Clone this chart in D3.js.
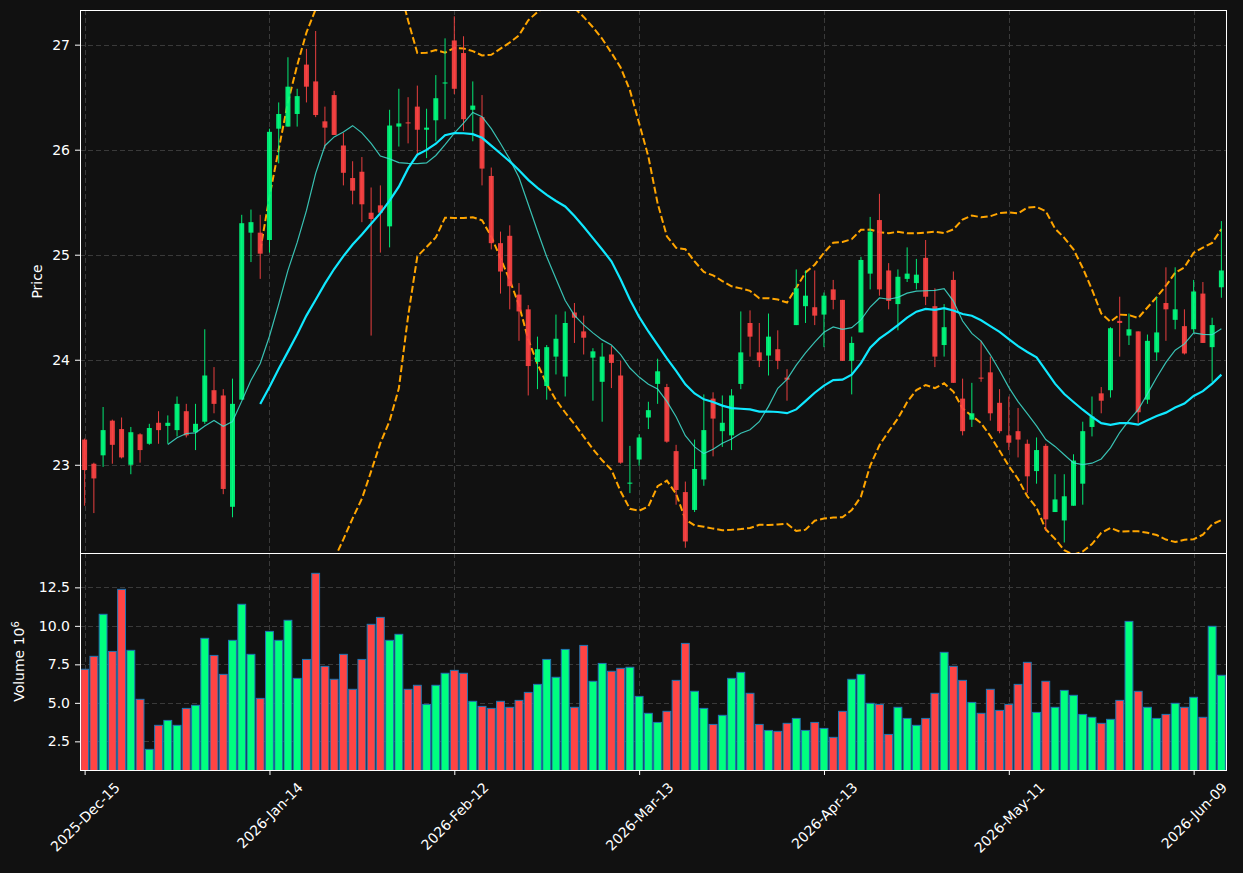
<!DOCTYPE html>
<html>
<head>
<meta charset="utf-8">
<script src="https://cdn.jsdelivr.net/npm/d3@7"></script>
<style>
  html, body { margin: 0; padding: 0; background: #111111; }
  svg { display: block; font-family: "DejaVu Sans", sans-serif; }
</style>
</head>
<body>
<svg id="chart" width="1243" height="873"></svg>
<script>
// --- Data (one candle per trading day) ---
const tickIdx = [0, 20, 40, 60, 80, 100, 120];
const tickLabels = ["2025-Dec-15", "2026-Jan-14", "2026-Feb-12", "2026-Mar-13", "2026-Apr-13", "2026-May-11", "2026-Jun-09"];

const opens = [
  23.24, 23.01, 23.09, 23.42, 23.34, 23.00, 23.29, 23.20, 23.40, 23.37,
  23.33, 23.51, 23.31, 23.41, 23.71, 23.66, 22.60, 23.62, 25.21, 25.21,
  25.14, 26.20, 26.22, 26.34, 26.81, 26.65, 26.27, 26.52, 26.04, 25.73,
  25.79, 25.40, 25.47, 25.27, 26.22, 26.26, 26.41, 26.19, 26.28, 26.63,
  27.04, 26.92, 26.38, 26.31, 25.75, 25.11, 25.18, 24.62, 24.48, 23.98,
  23.75, 24.03, 23.84, 24.45, 24.27, 24.02, 23.79, 24.05, 23.85, 22.82,
  23.05, 23.45, 23.77, 23.74, 23.13, 22.74, 22.57, 22.86, 23.63, 23.32,
  23.28, 23.77, 24.35, 24.07, 24.04, 24.10, 23.83, 24.33, 24.51, 24.50,
  24.43, 24.67, 24.57, 23.99, 24.26, 24.82, 25.33, 24.85, 24.53, 24.77,
  24.73, 24.97, 24.51, 24.14, 24.76, 23.63, 23.43, 23.83, 23.88, 23.59,
  23.28, 23.32, 23.20, 22.94, 23.18, 22.55, 22.47, 22.61, 22.82, 23.36,
  23.68, 23.71, 24.37, 24.23, 24.27, 23.62, 24.07, 24.54, 24.38, 24.32,
  24.29, 24.63, 24.12, 24.69
];
const highs = [
  23.25, 23.02, 23.55, 23.43, 23.45, 23.36, 23.30, 23.39, 23.51, 23.47,
  23.65, 23.58, 23.58, 24.29, 23.93, 23.72, 23.82, 25.38, 25.43, 25.38,
  26.20, 26.45, 26.88, 26.58, 26.96, 27.13, 26.41, 26.56, 26.16, 25.89,
  25.93, 25.64, 25.66, 26.38, 26.58, 26.50, 26.61, 26.39, 26.71, 27.06,
  27.27, 27.08, 26.65, 26.52, 25.83, 25.22, 25.28, 24.73, 24.52, 24.22,
  24.14, 24.43, 24.46, 24.54, 24.42, 24.11, 24.16, 24.13, 23.99, 23.18,
  23.29, 23.60, 24.01, 23.77, 23.19, 22.84, 23.24, 23.67, 23.69, 23.66,
  23.72, 24.46, 24.47, 24.35, 24.44, 24.28, 23.91, 24.86, 24.85, 24.85,
  24.64, 24.76, 24.57, 24.22, 24.98, 25.36, 25.58, 24.92, 24.86, 25.07,
  24.96, 25.14, 24.68, 24.53, 24.84, 23.82, 23.78, 24.18, 24.03, 23.72,
  23.65, 23.54, 23.24, 23.26, 23.20, 22.91, 22.91, 23.10, 23.41, 23.65,
  23.74, 24.31, 24.60, 24.44, 24.27, 24.24, 24.60, 24.88, 24.88, 24.48,
  24.76, 24.74, 24.40, 25.32
];
const lows = [
  22.61, 22.54, 22.98, 23.01, 23.06, 22.91, 23.02, 23.19, 23.20, 23.20,
  23.27, 23.26, 23.14, 23.39, 23.49, 22.72, 22.50, 23.62, 24.93, 24.77,
  25.02, 25.87, 26.22, 26.22, 26.45, 26.31, 26.01, 26.14, 25.66, 25.48,
  25.31, 24.23, 25.02, 25.07, 26.03, 26.06, 25.96, 25.92, 26.08, 26.29,
  26.53, 26.18, 26.08, 25.66, 25.05, 24.63, 24.48, 24.18, 23.66, 23.72,
  23.62, 23.86, 23.65, 24.16, 24.05, 23.61, 23.41, 23.73, 23.01, 22.73,
  22.99, 23.34, 23.58, 23.21, 22.62, 22.21, 22.55, 22.80, 23.08, 23.17,
  23.14, 23.72, 24.03, 23.93, 23.85, 23.91, 23.61, 24.33, 24.35, 24.33,
  24.12, 24.48, 23.99, 23.67, 24.26, 24.67, 24.61, 24.48, 24.28, 24.74,
  24.67, 24.52, 23.93, 24.03, 23.78, 23.28, 23.36, 23.79, 23.42, 23.30,
  23.14, 23.07, 22.73, 22.82, 22.37, 22.55, 22.26, 22.61, 22.62, 23.27,
  23.49, 23.64, 24.03, 24.14, 23.40, 23.58, 23.99, 24.18, 24.29, 24.05,
  24.26, 24.16, 23.79, 24.59
];
const closes = [
  22.95, 22.87, 23.33, 23.19, 23.07, 23.31, 23.14, 23.35, 23.33, 23.40,
  23.58, 23.28, 23.39, 23.85, 23.58, 22.77, 23.58, 25.30, 25.31, 25.01,
  26.17, 26.34, 26.60, 26.51, 26.60, 26.33, 26.21, 26.14, 25.78, 25.61,
  25.48, 25.34, 25.40, 26.23, 26.25, 26.25, 26.19, 26.21, 26.49, 26.64,
  26.58, 26.29, 26.42, 25.82, 25.11, 24.84, 24.70, 24.46, 23.94, 24.10,
  24.12, 24.20, 24.35, 24.40, 24.21, 24.08, 24.03, 23.97, 23.02, 22.83,
  23.26, 23.52, 23.89, 23.22, 22.76, 22.27, 22.96, 23.33, 23.44, 23.40,
  23.66, 24.07, 24.22, 23.99, 24.22, 23.99, 23.81, 24.68, 24.61, 24.42,
  24.61, 24.57, 23.99, 24.16, 24.95, 25.22, 24.67, 24.56, 24.79, 24.82,
  24.81, 24.60, 24.03, 24.31, 23.78, 23.32, 23.49, 23.82, 23.49, 23.32,
  23.21, 23.24, 22.89, 23.14, 22.48, 22.67, 22.70, 23.04, 23.32, 23.46,
  23.61, 24.30, 24.35, 24.29, 23.50, 24.18, 24.26, 24.48, 24.48, 24.06,
  24.65, 24.16, 24.33, 24.85
];
// volume in millions (axis label carries the 10^6)
const volumes = [
  7.18, 8.02, 10.75, 8.34, 12.37, 8.41, 5.23, 1.98, 3.54, 3.86,
  3.54, 4.64, 4.84, 9.19, 8.08, 6.85, 9.06, 11.40, 8.15, 5.29,
  9.64, 9.06, 10.36, 6.59, 7.82, 13.41, 7.37, 6.53, 8.15, 5.88,
  7.82, 10.10, 10.55, 9.06, 9.45, 5.88, 6.14, 4.90, 6.14, 6.92,
  7.11, 6.92, 5.10, 4.77, 4.64, 5.10, 4.71, 5.16, 5.68, 6.20,
  7.82, 6.66, 8.47, 4.71, 8.73, 6.40, 7.56, 7.05, 7.24, 7.31,
  5.42, 4.32, 3.73, 4.45, 6.46, 8.86, 5.75, 4.64, 3.60, 4.19,
  6.59, 6.98, 5.62, 3.60, 3.21, 3.15, 3.67, 3.99, 3.21, 3.73,
  3.34, 2.76, 4.45, 6.53, 6.85, 4.97, 4.90, 2.95, 4.71, 3.99,
  3.54, 3.99, 5.62, 8.28, 7.37, 6.46, 5.03, 4.32, 5.88, 4.51,
  4.90, 6.20, 7.63, 4.38, 6.40, 4.71, 5.81, 5.49, 4.25, 4.06,
  3.67, 3.93, 5.16, 10.29, 5.75, 4.71, 3.99, 4.25, 4.97, 4.71,
  5.36, 4.06, 9.97, 6.79
];

const priceTicks = [23, 24, 25, 26, 27];
const volTicks = [2.5, 5.0, 7.5, 10.0, 12.5];

// --- Colours ---
const upColor = "#00ff7f";
const downColor = "#ff4444";
const gridColor = "#3a3a3a";

// --- Indicators: moving averages and Bollinger bands on the close ---
function sma(arr, n) {
  return arr.map((_, i) => i < n - 1 ? null : d3.mean(arr.slice(i - n + 1, i + 1)));
}
function bands(arr, n, k) {
  return arr.map((_, i) => {
    if (i < n - 1) return null;
    const win = arr.slice(i - n + 1, i + 1);
    const m = d3.mean(win);
    const sd = Math.sqrt(d3.mean(win, v => (v - m) * (v - m)));
    return { up: m + k * sd, lo: m - k * sd };
  });
}
const ma10 = sma(closes, 10);
const ma20 = sma(closes, 20);
const bb = bands(closes, 20, 2);

const candles = closes.map((c, i) => ({ i, o: opens[i], h: highs[i], l: lows[i], c, v: volumes[i], up: c >= opens[i] }));

// --- Layout ---
const svg = d3.select("#chart");
const left = 80, right = 1226;
const pTop = 10, pBot = 553, vTop = 553, vBot = 770;

const x = d3.scaleLinear().domain([-0.5, candles.length - 0.5]).range([left, right]);
const yP = d3.scaleLinear().domain([22.16, 27.33]).range([pBot, pTop]);
const yV = d3.scaleLinear().domain([0.64, 14.73]).range([vBot, vTop]);
const step = x(1) - x(0);

svg.append("rect").attr("width", 1243).attr("height", 873).attr("fill", "#111111");

const defs = svg.append("defs");
defs.append("clipPath").attr("id", "clipP")
  .append("rect").attr("x", left).attr("y", pTop).attr("width", right - left).attr("height", pBot - pTop);
defs.append("clipPath").attr("id", "clipV")
  .append("rect").attr("x", left).attr("y", vTop).attr("width", right - left).attr("height", vBot - vTop);

// grid lines
function grid(yScale, ticks, y0, y1) {
  const g = svg.append("g").attr("stroke", gridColor).attr("stroke-width", 1).attr("stroke-dasharray", "5,3");
  g.selectAll(".h").data(ticks).enter().append("line")
    .attr("x1", left).attr("x2", right)
    .attr("y1", d => Math.round(yScale(d)) + 0.5).attr("y2", d => Math.round(yScale(d)) + 0.5);
  g.selectAll(".v").data(tickIdx).enter().append("line")
    .attr("x1", d => Math.round(x(d)) + 0.5).attr("x2", d => Math.round(x(d)) + 0.5)
    .attr("y1", y0).attr("y2", y1);
}
grid(yP, priceTicks, pTop, pBot);
grid(yV, volTicks, vTop, vBot);

// --- Price panel ---
const pG = svg.append("g").attr("clip-path", "url(#clipP)");

// Bollinger bands (dashed orange)
const bandLine = key => d3.line()
  .defined(d => d !== null)
  .x((d, i) => x(i))
  .y(d => yP(d[key]));
["up", "lo"].forEach(key => {
  pG.append("path").datum(bb)
    .attr("d", bandLine(key))
    .attr("fill", "none").attr("stroke", "#ffa500")
    .attr("stroke-width", 2).attr("stroke-dasharray", "7,3");
});

// wicks
pG.selectAll(".wick").data(candles).enter().append("line")
  .attr("x1", d => x(d.i)).attr("x2", d => x(d.i))
  .attr("y1", d => yP(d.h)).attr("y2", d => yP(d.l))
  .attr("stroke", d => d.up ? upColor : downColor)
  .attr("stroke-opacity", 0.9).attr("stroke-width", 1);

// bodies
const bodyW = step * 0.54;
pG.selectAll(".body").data(candles).enter().append("rect")
  .attr("x", d => x(d.i) - bodyW / 2)
  .attr("y", d => yP(Math.max(d.o, d.c)))
  .attr("width", bodyW)
  .attr("height", d => Math.max(1, yP(Math.min(d.o, d.c)) - yP(Math.max(d.o, d.c))))
  .attr("fill", d => d.up ? upColor : downColor)
  .attr("fill-opacity", 0.9);

// moving averages
const maLine = d3.line().defined(d => d !== null).x((d, i) => x(i)).y(d => yP(d));
pG.append("path").datum(ma10).attr("d", maLine)
  .attr("fill", "none").attr("stroke", "#40e0d0").attr("stroke-opacity", 0.85).attr("stroke-width", 1.2);
pG.append("path").datum(ma20).attr("d", maLine)
  .attr("fill", "none").attr("stroke", "#10e8ff").attr("stroke-width", 2.2);

// --- Volume panel ---
const vG = svg.append("g").attr("clip-path", "url(#clipV)");
const barW = step * 0.85;
vG.selectAll(".vol").data(candles).enter().append("rect")
  .attr("x", d => x(d.i) - barW / 2)
  .attr("y", d => yV(d.v))
  .attr("width", barW)
  .attr("height", d => vBot + 5 - yV(d.v))
  .attr("fill", d => d.up ? upColor : downColor)
  .attr("stroke", "#1f77b4").attr("stroke-width", 1);

// --- Axes ---
function styleAxis(g) {
  g.select(".domain").remove();
  g.selectAll("line").attr("stroke", "#ffffff");
  g.selectAll("text").attr("fill", "#ffffff").style("font-size", "14px").style("font-family", "DejaVu Sans, sans-serif");
}
svg.append("g").attr("transform", `translate(${left},0)`)
  .call(d3.axisLeft(yP).tickValues(priceTicks).tickFormat(d3.format("d")).tickSize(5).tickPadding(5))
  .call(styleAxis);
svg.append("g").attr("transform", `translate(${left},0)`)
  .call(d3.axisLeft(yV).tickValues(volTicks).tickFormat(d3.format(".1f")).tickSize(5).tickPadding(5))
  .call(styleAxis);

const xAxis = svg.append("g").attr("transform", `translate(0,${vBot})`)
  .call(d3.axisBottom(x).tickValues(tickIdx).tickFormat((d, i) => tickLabels[i]).tickSize(5).tickPadding(5))
  .call(styleAxis);
// rotate labels 45 deg, centred under each tick
xAxis.selectAll(".tick text").each(function () {
  const t = d3.select(this);
  const w = this.getComputedTextLength();
  const half = (w * Math.SQRT1_2 + 14 * Math.SQRT1_2) / 2;
  t.attr("y", null).attr("dy", null)
    .attr("text-anchor", "middle").attr("dominant-baseline", "central")
    .attr("transform", `translate(0,${10 + half}) rotate(-45)`);
});

// panel borders
svg.append("rect").attr("x", left + 0.5).attr("y", pTop + 0.5).attr("width", right - left).attr("height", pBot - pTop)
  .attr("fill", "none").attr("stroke", "#ffffff").attr("stroke-width", 1);
svg.append("rect").attr("x", left + 0.5).attr("y", vTop + 0.5).attr("width", right - left).attr("height", vBot - vTop)
  .attr("fill", "none").attr("stroke", "#ffffff").attr("stroke-width", 1);

// axis labels
svg.append("text")
  .attr("transform", `translate(42,${(pTop + pBot) / 2}) rotate(-90)`)
  .attr("text-anchor", "middle").attr("fill", "#ffffff").style("font-size", "14px")
  .text("Price");
const vLab = svg.append("text")
  .attr("transform", `translate(24,${(vTop + vBot) / 2}) rotate(-90)`)
  .attr("text-anchor", "middle").attr("fill", "#ffffff").style("font-size", "14px");
vLab.append("tspan").text("Volume  10");
vLab.append("tspan").attr("baseline-shift", "super").style("font-size", "10px").text("6");
</script>
</body>
</html>
